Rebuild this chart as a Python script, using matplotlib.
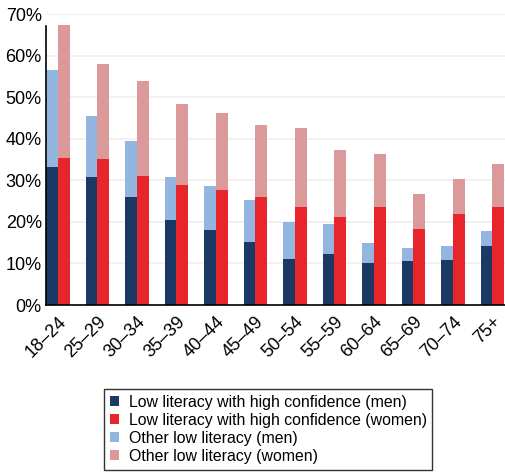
import matplotlib.pyplot as plt
import numpy as np

plt.rcParams['font.family'] = ['Liberation Sans', 'DejaVu Sans']

age_groups = ['18–24', '25–29', '30–34', '35–39', '40–44', '45–49',
              '50–54', '55–59', '60–64', '65–69', '70–74', '75+']
# share with low literacy and high confidence (%)
high_conf_men = [33.2, 30.8, 25.9, 20.4, 18.0, 15.1, 11.1, 12.3, 10.0, 10.6, 10.8, 14.2]
high_conf_women = [35.4, 35.2, 31.0, 28.8, 27.6, 26.0, 23.5, 21.1, 23.5, 18.3, 21.9, 23.5]
# total low literacy (%)
total_men = [56.6, 45.4, 39.4, 30.8, 28.6, 25.2, 20.0, 19.6, 15.0, 13.8, 14.2, 17.8]
total_women = [67.3, 57.9, 53.9, 48.3, 46.2, 43.3, 42.6, 37.3, 36.3, 26.6, 30.2, 33.8]

other_men = np.array(total_men) - np.array(high_conf_men)
other_women = np.array(total_women) - np.array(high_conf_women)

c_navy = '#1b3a63'
c_red = '#e8252a'
c_lblue = '#93b6e0'
c_pink = '#dc9999'

fig = plt.figure(figsize=(5.06, 4.75), dpi=100)
ax = fig.add_axes([46 / 506, 1 - 305 / 475, 460 / 506, 291 / 475])

x = np.arange(len(age_groups))
w = 0.3

b1 = ax.bar(x, high_conf_men, width=-w, align='edge', color=c_navy, zorder=2)
b3 = ax.bar(x, other_men, width=-w, align='edge', bottom=high_conf_men, color=c_lblue, zorder=2)
b2 = ax.bar(x, high_conf_women, width=w, align='edge', color=c_red, zorder=2)
b4 = ax.bar(x, other_women, width=w, align='edge', bottom=high_conf_women, color=c_pink, zorder=2)

ax.set_xlim(-w, -w + 460 / 39.5)
ax.set_ylim(0, 70)
ax.set_yticks(np.arange(0, 71, 10))
ax.set_yticklabels(['{}%'.format(v) for v in range(0, 71, 10)], fontsize=13)
ax.set_xticks(x)
ax.set_xticklabels(age_groups, rotation=45, ha='right', rotation_mode='anchor', fontsize=13)
ax.tick_params(length=0, pad=3)
ax.tick_params(axis='x', pad=6)

ax.grid(axis='y', color='#f1eded', linewidth=1.2, zorder=0)
ax.set_axisbelow(True)
for s in ['top', 'right']:
    ax.spines[s].set_visible(False)
ax.spines['left'].set_bounds(0, 67)
ax.spines['left'].set_linewidth(1.2)
ax.spines['bottom'].set_linewidth(1.2)

leg = fig.legend([b1, b2, b3, b4],
                 ['Low literacy with high confidence (men)',
                  'Low literacy with high confidence (women)',
                  'Other low literacy (men)',
                  'Other low literacy (women)'],
                 loc='upper left', bbox_to_anchor=(104 / 506, 1 - 389 / 475),
                 fontsize=11.4, handlelength=0.6, handleheight=0.6, handletextpad=0.6,
                 labelspacing=0.2, borderpad=0.35, borderaxespad=0,
                 fancybox=False, framealpha=1)
leg.get_frame().set_edgecolor('#333333')
leg.get_frame().set_linewidth(1.0)

plt.savefig('out.png', dpi=100)
plt.close()
